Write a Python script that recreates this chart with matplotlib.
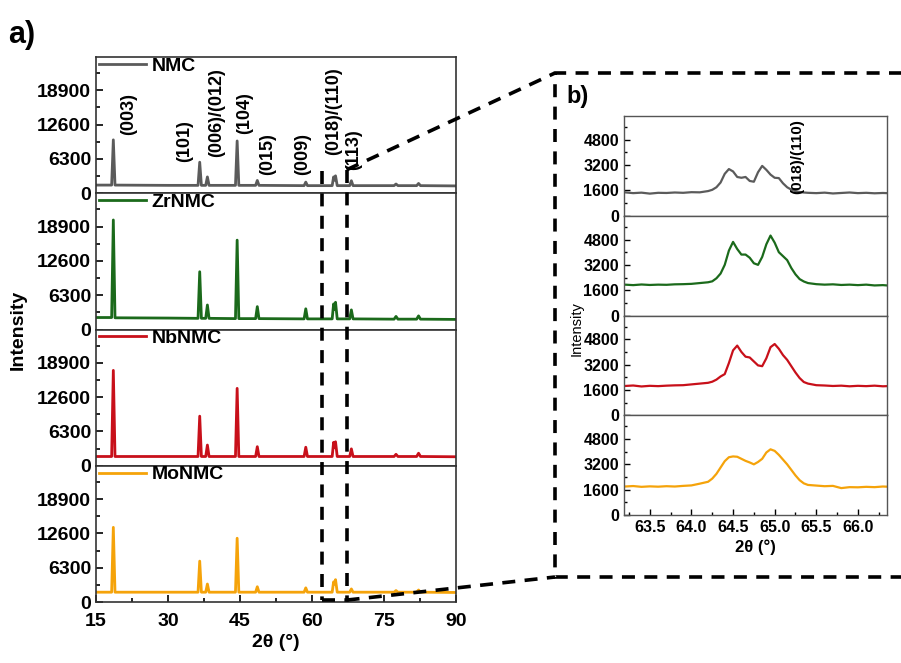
import matplotlib.pyplot as plt
from matplotlib.lines import Line2D
from matplotlib.ticker import MultipleLocator

plt.rcParams['font.family'] = ['Liberation Sans', 'DejaVu Sans']
plt.rcParams['font.weight'] = 'bold'
plt.rcParams['axes.labelweight'] = 'bold'

# sample names and colours
samples = ["NMC", "ZrNMC", "NbNMC", "MoNMC"]
colors = ["#5b5b5b", "#1b6a1b", "#c8101a", "#f5a30a"]

# full pattern (a)
two_theta = [15, 18.25, 18.6, 18.95, 30, 36.25, 36.6, 36.95, 37.85, 38.2, 38.55,
             44.05, 44.4, 44.75, 48.25, 48.6, 48.95, 58.35, 58.7, 59.05,
             64.2, 64.5, 64.7, 64.9, 65.25, 67.85, 68.2, 68.55,
             77.1, 77.5, 77.9, 81.8, 82.2, 82.6, 90]
nmc = [1500, 1500, 9800, 1500, 1450, 1450, 5700, 1450, 1450, 3000, 1450,
       1450, 9600, 1450, 1450, 2350, 1450, 1400, 2050, 1400,
       1400, 3000, 2400, 3200, 1400, 1400, 2300, 1400,
       1400, 1700, 1400, 1400, 1800, 1400, 1350]
zrnmc = [2200, 2200, 20100, 2150, 2100, 2050, 10600, 2050, 2050, 4500, 2050,
         2000, 16400, 2000, 2000, 4200, 2000, 1950, 3800, 1950,
         1950, 4700, 3700, 5000, 1950, 1950, 3600, 1950,
         1900, 2400, 1900, 1900, 2500, 1900, 1850]
nbnmc = [1700, 1700, 17500, 1700, 1700, 1700, 9100, 1700, 1700, 3800, 1700,
         1700, 14200, 1700, 1700, 3500, 1700, 1700, 3400, 1700,
         1700, 4300, 3300, 4400, 1700, 1700, 3100, 1700,
         1700, 2100, 1700, 1700, 2300, 1700, 1650]
monmc = [1800, 1800, 13700, 1800, 1800, 1800, 7500, 1800, 1800, 3300, 1800,
         1800, 11700, 1800, 1800, 2800, 1800, 1800, 2600, 1800,
         1800, 3700, 3300, 4100, 1800, 1800, 2400, 1800,
         1800, 2100, 1800, 1800, 2200, 1800, 1750]
patterns = [nmc, zrnmc, nbnmc, monmc]

peak_labels = ["(003)", "(101)", "(006)/(012)", "(104)", "(015)", "(009)", "(018)/(110)", "(113)"]
peak_label_x = [21.7, 33.5, 40.2, 46.0, 50.8, 58.1, 64.4, 68.75]
peak_label_y = [10600, 5700, 6600, 10800, 3300, 3300, 7100, 4200]

# zoomed region (b)
zoom_theta = [63.2, 63.3, 63.4, 63.5, 63.6, 63.7, 63.8, 63.9, 64.0, 64.1,
              64.2, 64.25, 64.3, 64.35, 64.4, 64.45, 64.5, 64.55, 64.6, 64.65,
              64.7, 64.75, 64.8, 64.85, 64.9, 64.95, 65.0, 65.05, 65.1, 65.15,
              65.2, 65.25, 65.3, 65.35, 65.4,
              65.5, 65.6, 65.7, 65.8, 65.9, 66.0, 66.1, 66.2, 66.3, 66.35]
zoom_nmc = [1480, 1430, 1460, 1400, 1450, 1440, 1470, 1450, 1490, 1480,
            1560, 1640, 1800, 2100, 2650, 2950, 2800, 2450, 2400, 2450,
            2200, 2150, 2750, 3150, 2900, 2600, 2400, 2380, 2050, 1800,
            1650, 1560, 1500, 1470, 1450,
            1430, 1460, 1410, 1440, 1470, 1430, 1450, 1420, 1440, 1430]
zoom_zrnmc = [1950, 1920, 1960, 1930, 1950, 1940, 1970, 1980, 2000, 2050,
              2100, 2160, 2350, 2650, 3200, 4100, 4650, 4200, 3850, 3850,
              3650, 3300, 3200, 3700, 4500, 5050, 4600, 4000, 3750, 3500,
              3000, 2600, 2300, 2150, 2050,
              1980, 1950, 1970, 1930, 1950, 1920, 1950, 1900, 1920, 1900]
zoom_nbnmc = [1850, 1880, 1820, 1860, 1840, 1870, 1890, 1900, 1950, 2000,
              2050, 2120, 2250, 2450, 2600, 3300, 4100, 4400, 4000, 3700,
              3650, 3400, 3150, 3100, 3600, 4300, 4500, 4200, 3800, 3500,
              3100, 2700, 2350, 2100, 2000,
              1900, 1880, 1850, 1870, 1830, 1860, 1840, 1870, 1830, 1840]
zoom_monmc = [1800, 1830, 1780, 1810, 1790, 1820, 1800, 1840, 1870, 1980,
              2100, 2300, 2600, 3000, 3400, 3650, 3700, 3680, 3550, 3420,
              3320, 3200, 3350, 3550, 3950, 4150, 4050, 3800, 3500, 3200,
              2850, 2500, 2200, 2000, 1900,
              1860, 1820, 1840, 1700, 1760, 1750, 1780, 1760, 1800, 1790]
zoom_patterns = [zoom_nmc, zoom_zrnmc, zoom_nbnmc, zoom_monmc]

fig = plt.figure(figsize=(9.01, 6.63), dpi=100)

## panel a: four stacked axes
la_left, la_right, la_bot, la_top = 0.1066, 0.5061, 0.092, 0.914
la_h = (la_top - la_bot) / 4
axL = []
for i in range(4):
    ax = fig.add_axes([la_left, la_top - (i + 1) * la_h, la_right - la_left, la_h])
    ln, = ax.plot(two_theta, patterns[i], color=colors[i], lw=2.0)
    ax.set_xlim(15, 90)
    ax.set_ylim(0, 25000)
    ax.set_yticks([0, 6300, 12600, 18900])
    ax.yaxis.set_minor_locator(MultipleLocator(3150))
    ax.xaxis.set_major_locator(MultipleLocator(15))
    ax.xaxis.set_minor_locator(MultipleLocator(7.5))
    ax.tick_params(which='both', direction='in', labelsize=14, width=1.2)
    ax.tick_params(which='major', length=5)
    ax.tick_params(which='minor', length=3)
    ax.tick_params(axis='x', pad=8)
    for sp in ax.spines.values():
        sp.set_color('#333333')
        sp.set_linewidth(1.2)
    if i < 3:
        ax.tick_params(axis='x', which='both', bottom=False, labelbottom=False)
    ax.legend(handles=[ln], labels=[samples[i]], loc='upper left', frameon=False,
              prop={'weight': 'bold', 'size': 14}, handlelength=2.4,
              handletextpad=0.3, borderpad=0, borderaxespad=0,
              bbox_to_anchor=(0.008, 1.0))
    axL.append(ax)

for lab, lx, ly in zip(peak_labels, peak_label_x, peak_label_y):
    axL[0].text(lx, ly, lab, rotation=90, ha='center', va='bottom', fontsize=13)

axL[3].set_xlabel('2θ (°)', fontsize=14, fontweight='bold', labelpad=3)
fig.text(0.02, (la_bot + la_top) / 2, 'Intensity', rotation=90, ha='center',
         va='center', fontsize=14)

## panel b: zoom on the (018)/(110) doublet
rb_left, rb_right, rb_bot, rb_top = 0.6926, 0.9845, 0.2232, 0.8250
rb_h = (rb_top - rb_bot) / 4
axR = []
for i in range(4):
    ax = fig.add_axes([rb_left, rb_top - (i + 1) * rb_h, rb_right - rb_left, rb_h])
    ax.plot(zoom_theta, zoom_patterns[i], color=colors[i], lw=1.6)
    ax.set_xlim(63.19, 66.35)
    ax.set_ylim(0, 6300)
    ax.set_yticks([0, 1600, 3200, 4800])
    ax.yaxis.set_minor_locator(MultipleLocator(800))
    ax.xaxis.set_major_locator(MultipleLocator(0.5))
    ax.xaxis.set_minor_locator(MultipleLocator(0.25))
    ax.tick_params(which='both', direction='in', labelsize=11.5, width=1.0)
    ax.tick_params(which='major', length=4)
    ax.tick_params(which='minor', length=2)
    for sp in ax.spines.values():
        sp.set_color('#555555')
        sp.set_linewidth(1.0)
    if i < 3:
        ax.tick_params(axis='x', which='both', bottom=False, labelbottom=False)
    axR.append(ax)

axR[0].text(65.27, 1400, '(018)/(110)', rotation=90, ha='center', va='bottom', fontsize=11)
axR[3].set_xlabel('2θ (°)', fontsize=12, fontweight='bold', labelpad=3)
fig.text(0.640, 0.505, 'Intensity', rotation=90, ha='center', va='center',
         fontsize=10.5, fontweight='normal')

fig.text(0.009, 0.947, 'a)', fontsize=22, ha='left', va='center')
fig.text(0.629, 0.854, 'b)', fontsize=17, ha='left', va='center')

## zoom markers and connector lines
def to_fig(ax, x, y):
    return fig.transFigure.inverted().transform(ax.transData.transform((x, y)))

zoom_lo, zoom_hi = 62.1, 67.2
top_l = to_fig(axL[0], zoom_lo, 4000)
top_r = to_fig(axL[0], zoom_hi, 4300)
bot_l = to_fig(axL[3], zoom_lo, 350)
bot_r = to_fig(axL[3], zoom_hi, 350)
box_x, box_top, box_bot = 555 / 901, 1 - 73 / 663, 1 - 577 / 663

dash = dict(transform=fig.transFigure, color='black', lw=2.6, dashes=(3.6, 2.6))
fig.add_artist(Line2D([top_l[0], bot_l[0]], [top_l[1], bot_l[1]], **dash))
fig.add_artist(Line2D([top_r[0], bot_r[0]], [top_r[1], bot_r[1]], **dash))
fig.add_artist(Line2D([bot_l[0], bot_r[0]], [bot_l[1], bot_r[1]], **dash))
fig.add_artist(Line2D([top_r[0], box_x], [top_r[1], box_top], **dash))
fig.add_artist(Line2D([bot_r[0], box_x], [bot_r[1], box_bot], **dash))
fig.add_artist(Line2D([1.02, box_x, box_x, 1.02], [box_top, box_top, box_bot, box_bot], **dash))

plt.savefig('out.png', dpi=100)
